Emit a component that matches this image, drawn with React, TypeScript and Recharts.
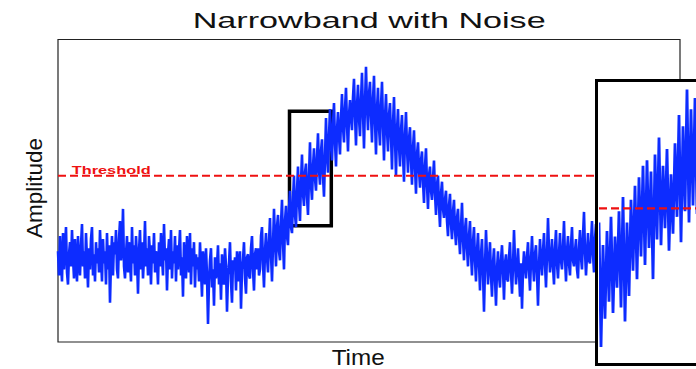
import React from 'react';
import { LineChart, Line, XAxis, YAxis, ReferenceLine, ReferenceArea } from 'recharts';

// Main noisy narrowband signal (amplitude 0-100), one sample per time step
const mainValues: number[] = [
  30, 22, 35, 26, 20, 36, 24, 31, 38, 23, 19, 29, 33, 25, 37, 28, 21, 34, 26, 20,
  35, 27, 22, 32, 39, 25, 30, 21, 36, 27, 18, 31, 24, 34, 38, 22, 29, 20, 33, 26,
  31, 23, 37, 28, 20, 34, 26, 30, 19, 36, 24, 32, 13, 27, 35, 22, 33, 29, 37, 24,
  21, 34, 40, 27, 31, 44, 25, 21, 29, 35, 23, 33, 27, 20, 38, 26, 32, 22, 35, 28,
  16, 30, 37, 24, 33, 21, 28, 40, 25, 31, 22, 35, 29, 19, 32, 26, 36, 23, 30, 27,
  19, 33, 25, 36, 28, 22, 39, 27, 31, 17, 29, 34, 24, 37, 21, 30, 26, 35, 20, 32,
  24, 30, 37, 22, 28, 15, 33, 26, 21, 35, 28, 23, 36, 19, 31, 25, 33, 18, 29, 24,
  28, 20, 33, 24, 15, 30, 26, 19, 31, 22, 6, 20, 27, 31, 18, 24, 12, 28, 21, 25,
  32, 19, 26, 14, 29, 23, 19, 31, 25, 10, 22, 26, 33, 20, 13, 27, 24, 28, 17, 30,
  20, 26, 30, 11, 24, 27, 33, 21, 16, 28, 29, 22, 21, 31, 35, 24, 17, 29, 31, 24,
  31, 22, 24, 35, 38, 26, 18, 30, 36, 28, 23, 33, 41, 29, 20, 32, 44, 34, 25, 38,
  42, 30, 27, 39, 47, 33, 24, 40, 45, 35, 32, 44, 50, 38, 36, 47, 55, 42, 38, 50,
  58, 46, 40, 53, 62, 49, 45, 56, 59, 48, 42, 55, 66, 52, 47, 58, 64, 54, 50, 61,
  69, 57, 52, 63, 67, 55, 48, 61, 74, 62, 56, 68, 77, 65, 60, 72, 79, 66, 58, 70,
  76, 68, 62, 74, 82, 71, 66, 77, 84, 72, 63, 75, 80, 74, 70, 81, 87, 75, 65, 78,
  85, 74, 68, 80, 89, 76, 64, 79, 91, 78, 70, 82, 86, 75, 66, 80, 88, 73, 62, 77,
  84, 71, 65, 78, 86, 72, 60, 74, 82, 70, 63, 75, 79, 68, 57, 72, 81, 67, 55, 70,
  77, 65, 58, 70, 75, 62, 53, 68, 76, 64, 56, 67, 71, 60, 52, 64, 70, 58, 49, 62,
  66, 57, 51, 60, 63, 53, 46, 58, 64, 52, 44, 55, 58, 50, 47, 54, 60, 49, 42, 52,
  55, 45, 38, 49, 53, 44, 41, 47, 50, 40, 35, 45, 49, 39, 34, 43, 47, 37, 32, 41,
  44, 35, 29, 38, 46, 34, 27, 37, 41, 31, 25, 35, 40, 29, 22, 33, 38, 27, 20, 30,
  36, 26, 17, 29, 34, 23, 10, 25, 37, 28, 19, 27, 33, 22, 15, 26, 31, 21, 12, 24,
  30, 22, 18, 27, 32, 24, 14, 26, 29, 21, 20, 28, 33, 23, 16, 25, 37, 27, 19, 24,
  31, 23, 15, 26, 11, 24, 30, 25, 21, 28, 33, 24, 17, 27, 35, 26, 20, 29, 32, 23,
  12, 25, 34, 27, 22, 30, 36, 26, 18, 29, 41, 30, 23, 28, 34, 25, 19, 31, 37, 26,
  21, 29, 36, 27, 24, 31, 40, 28, 20, 30, 35, 26, 22, 32, 38, 27, 25, 30, 34, 24,
  21, 31, 37, 28, 24, 35, 43, 30, 22, 29, 36, 27, 26, 33, 40, 29, 23, 34, 39, 28,
  25, 36, 44, 30, 28, 38, 41, 32, 30, 46,
];

// Zoomed inset signal (amplitude 0-100 on the inset's own scale)
const insetValues: number[] = [
  50, 6, 42, 16, 47, 22, 52, 18, 45, 27,
  54, 20, 59, 15, 50, 24, 58, 33, 63, 30,
  66, 38, 70, 35, 72, 41, 68, 30, 74, 44,
  80, 42, 70, 48, 76, 40, 67, 46, 78, 52,
  88, 43, 84, 54, 97, 50, 90, 56, 94, 53,
  96,
];

const THRESHOLD = 55;
const TIME_MAX = 622;
const ZOOM_BOX = { t1: 231.5, t2: 273.3, a1: 38.4, a2: 76.3 };

const TITLE = 'Narrowband with Noise';
const X_LABEL = 'Time';
const Y_LABEL = 'Amplitude';
const THRESHOLD_LABEL = 'Threshold';

const mainData = mainValues.map((v, i) => ({ t: i, v }));
const insetData = insetValues.map((v, i) => ({ k: i, v }));

const FONT = '"Liberation Sans", Arial, Helvetica, sans-serif';
const BLUE = '#0d2cff';
const RED = '#ee1111';

export default function App() {
  return (
    <div
      style={{
        position: 'absolute',
        left: 0,
        top: 0,
        width: 696,
        height: 369,
        overflow: 'hidden',
        background: '#fff',
      }}
    >
      <LineChart
        width={696}
        height={369}
        data={mainData}
        margin={{ top: 39.5, right: 16, bottom: 27, left: 58 }}
      >
        <XAxis dataKey="t" type="number" domain={[0, TIME_MAX]} hide />
        <YAxis type="number" domain={[0, 100]} hide />
        <ReferenceArea
          x1={0}
          x2={TIME_MAX}
          y1={0}
          y2={100}
          fill="none"
          fillOpacity={0}
          stroke="#222"
          strokeWidth={1.2}
        />
        <Line
          dataKey="v"
          type="linear"
          stroke={BLUE}
          strokeWidth={2.6}
          dot={false}
          isAnimationActive={false}
        />
        <ReferenceLine
          y={THRESHOLD}
          stroke={RED}
          strokeWidth={2}
          strokeDasharray="8 4"
          label={(props: any) => {
            const vb = props.viewBox || {};
            return (
              <text
                x={(vb.x ?? 58) + 13.7}
                y={(vb.y ?? 176) - 1.8}
                fill={RED}
                fontFamily={FONT}
                fontSize={11.6}
                fontWeight="bold"
                textLength={79}
                lengthAdjust="spacingAndGlyphs"
              >
                {THRESHOLD_LABEL}
              </text>
            );
          }}
        />
        <ReferenceArea
          x1={ZOOM_BOX.t1}
          x2={ZOOM_BOX.t2}
          y1={ZOOM_BOX.a1}
          y2={ZOOM_BOX.a2}
          fill="none"
          fillOpacity={0}
          stroke="#000"
          strokeWidth={3.5}
        />
      </LineChart>

      {/* inset background */}
      <div
        style={{
          position: 'absolute',
          left: 595.2,
          top: 79,
          width: 130,
          height: 286.5,
          background: '#fff',
        }}
      />
      <div style={{ position: 'absolute', left: 599, top: 80.7 }}>
        <LineChart
          width={100}
          height={283}
          data={insetData}
          margin={{ top: 0, right: 0, bottom: 0, left: 0 }}
        >
          <XAxis dataKey="k" type="number" domain={[0, 50]} hide />
          <YAxis type="number" domain={[0, 100]} hide />
          <Line
            dataKey="v"
            type="linear"
            stroke={BLUE}
            strokeWidth={2.8}
            dot={false}
            isAnimationActive={false}
          />
          <ReferenceLine
            y={THRESHOLD}
            stroke={RED}
            strokeWidth={2.2}
            strokeDasharray="8 4"
          />
        </LineChart>
      </div>
      {/* inset border */}
      <div
        style={{
          position: 'absolute',
          left: 595.2,
          top: 79,
          width: 130,
          height: 286.5,
          border: '3.5px solid #000',
          boxSizing: 'border-box',
          pointerEvents: 'none',
        }}
      />

      <svg
        width={696}
        height={369}
        style={{ position: 'absolute', left: 0, top: 0, pointerEvents: 'none' }}
      >
        <text
          x={192.7}
          y={28.3}
          fill="#111"
          fontFamily={FONT}
          fontSize={22}
          textLength={353}
          lengthAdjust="spacingAndGlyphs"
        >
          {TITLE}
        </text>
        <text
          x={331.7}
          y={365}
          fill="#111"
          fontFamily={FONT}
          fontSize={22}
          textLength={53}
          lengthAdjust="spacingAndGlyphs"
        >
          {X_LABEL}
        </text>
        <text
          x={41.7}
          y={238}
          fill="#111"
          fontFamily={FONT}
          fontSize={22}
          textLength={100}
          lengthAdjust="spacingAndGlyphs"
          transform="rotate(-90 41.7 238)"
        >
          {Y_LABEL}
        </text>
      </svg>
    </div>
  );
}
